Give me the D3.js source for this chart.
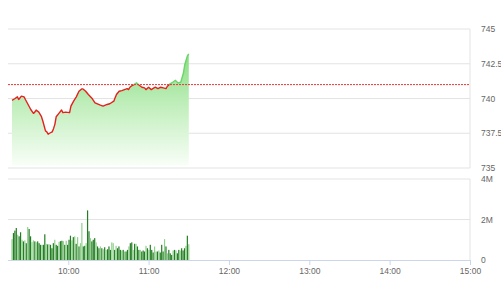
<!DOCTYPE html>
<html>
<head>
<meta charset="utf-8">
<script src="https://cdn.jsdelivr.net/npm/d3@7"></script>
<style>
  body { margin: 0; background: #fff; }
  svg { display: block; font-family: Roboto, "Noto Sans", sans-serif; }
</style>
</head>
<body>
<svg id="chart" width="501" height="300"></svg>
<script>
// intraday index, session 09:15 - 15:00
const priceTimes = ["09:18","09:20","09:22","09:23","09:25","09:27","09:28","09:30","09:32","09:34",
  "09:35","09:36","09:38","09:40","09:41","09:43","09:44","09:45","09:46","09:48",
  "09:49","09:50","09:51","09:53","09:55","09:56","09:58","10:01","10:02","10:04",
  "10:06","10:08","10:10","10:11","10:13","10:15","10:18",
  "10:20","10:24","10:26","10:29","10:31","10:34","10:35","10:36","10:38","10:40",
  "10:42","10:44","10:45","10:46","10:48","10:49","10:51","10:53","10:55","10:57",
  "10:58","11:00","11:02","11:04","11:05","11:07","11:09","11:11","11:13","11:14",
  "11:16","11:18","11:20","11:22","11:24","11:26","11:27","11:29","11:30"];
const prices = [739.86,739.98,740.12,739.93,740.17,740.12,739.93,739.57,739.21,738.93,
  739.02,739.17,739.02,738.69,738.38,737.67,737.6,737.43,737.5,737.6,
  737.83,738.14,738.69,738.93,739.17,738.98,739.02,738.98,739.45,739.81,
  740.12,740.52,740.69,740.69,740.52,740.29,739.98,
  739.69,739.52,739.45,739.57,739.62,739.81,740.05,740.29,740.52,740.57,
  740.64,740.71,740.64,740.81,740.95,741.0,741.12,740.95,740.81,740.76,
  740.64,740.81,740.64,740.76,740.81,740.71,740.81,740.76,740.71,740.88,
  741.05,741.17,741.31,741.12,741.17,741.83,742.43,743.07,743.21];
const refPrice = 741;

// volume in millions, evenly spread from volStart to volEnd
const volStart = "09:18";
const volEnd = "11:30";
const volumes = [1.03,1.33,1.45,1.58,1.25,1.17,1.37,1.0,0.92,0.97,0.83,1.63,1.53,1.17,0.88,0.97,
  0.92,0.87,0.92,0.83,0.75,0.75,0.75,1.27,0.8,0.77,0.78,0.75,0.58,0.83,1.0,0.75,0.7,0.9,0.93,
  0.95,0.93,0.75,0.95,0.75,1.0,1.2,0.97,1.13,1.17,0.8,1.13,0.67,0.83,1.83,0.67,0.7,0.83,2.45,
  1.42,1.08,0.92,1.0,1.08,0.87,0.67,0.58,
  0.67,0.58,0.53,0.63,0.5,0.53,0.67,0.5,0.87,0.83,0.5,0.7,0.58,0.67,0.5,0.47,0.5,0.42,0.42,
  0.5,0.67,0.83,0.87,0.5,0.8,0.8,0.67,0.5,0.5,0.42,0.47,0.42,0.7,0.58,0.5,0.75,0.5,0.37,0.67,
  0.42,0.42,0.47,0.37,0.75,0.42,1.03,0.67,0.33,0.5,0.33,0.25,0.47,0.5,0.47,0.33,0.5,0.47,0.58,
  0.47,0.58,0.7,1.2,0.78];
// d = dark (up), l = light (down)
const volSide = "ldddlddldldlddlldldddlddldldddlddlddldldddldldldllddlddldddlddl" +
  "dldldddlldldddldlddlddldlddldddldldddlldldddldldddldlddldddldld";

const priceTicks = [735, 737.5, 740, 742.5, 745];
const volTicks = [0, 2, 4];
const volTickLabels = ["0", "2M", "4M"];
const timeTicks = ["10:00", "11:00", "12:00", "13:00", "14:00", "15:00"];

const parse = d3.timeParse("%H:%M");
const svg = d3.select("#chart");
const left = 8, right = 470;

const x = d3.scaleTime().domain([parse("09:15"), parse("15:00")]).range([left, right]);
const yP = d3.scaleLinear().domain([735, 745]).range([168, 29]);
const yV = d3.scaleLinear().domain([0, 4]).range([260, 179]);

const grid = "#e3e3e3";

// price panel grid + right border
svg.append("g").selectAll("line").data(priceTicks).join("line")
  .attr("x1", left).attr("x2", right)
  .attr("y1", d => yP(d)).attr("y2", d => yP(d))
  .attr("stroke", grid).attr("stroke-width", 1);
svg.append("line").attr("x1", right).attr("x2", right)
  .attr("y1", yP(745)).attr("y2", yP(735)).attr("stroke", grid);

// volume panel grid + right border
svg.append("g").selectAll("line").data(volTicks.slice(1)).join("line")
  .attr("x1", left).attr("x2", right)
  .attr("y1", d => yV(d)).attr("y2", d => yV(d))
  .attr("stroke", grid).attr("stroke-width", 1);
svg.append("line").attr("x1", right).attr("x2", right)
  .attr("y1", yV(4)).attr("y2", yV(0)).attr("stroke", grid);

// gradient for the price area
const defs = svg.append("defs");
const grad = defs.append("linearGradient").attr("id", "pfill")
  .attr("gradientUnits", "userSpaceOnUse")
  .attr("x1", 0).attr("x2", 0).attr("y1", yP(743.3)).attr("y2", yP(735));
grad.append("stop").attr("offset", 0).attr("stop-color", "#86de80");
grad.append("stop").attr("offset", 0.45).attr("stop-color", "#c0eebb");
grad.append("stop").attr("offset", 1).attr("stop-color", "#fbfffa");

const yRef = yP(refPrice);
defs.append("clipPath").attr("id", "above").append("rect")
  .attr("x", 0).attr("y", 0).attr("width", 501).attr("height", yRef);
defs.append("clipPath").attr("id", "below").append("rect")
  .attr("x", 0).attr("y", yRef).attr("width", 501).attr("height", 300 - yRef);

const pts = priceTimes.map((t, i) => ({ t: parse(t), v: prices[i] }));

svg.append("path").datum(pts)
  .attr("d", d3.area().x(d => x(d.t)).y0(yP(735.2)).y1(d => yP(d.v)))
  .attr("fill", "url(#pfill)");

const line = d3.line().x(d => x(d.t)).y(d => yP(d.v));
svg.append("path").datum(pts).attr("d", line)
  .attr("fill", "none").attr("stroke", "#6cd46a").attr("stroke-width", 1.4)
  .attr("clip-path", "url(#above)");
svg.append("path").datum(pts).attr("d", line)
  .attr("fill", "none").attr("stroke", "#e3211d").attr("stroke-width", 1.4)
  .attr("stroke-linejoin", "round")
  .attr("clip-path", "url(#below)");

// reference line
svg.append("line")
  .attr("x1", left).attr("x2", right).attr("y1", yRef).attr("y2", yRef)
  .attr("stroke", "#e53935").attr("stroke-width", 1).attr("stroke-dasharray", "2,1");

// volume bars
const t0 = parse(volStart), t1 = parse(volEnd);
const step = (t1 - t0) / (volumes.length - 1);
svg.append("g").selectAll("rect").data(volumes).join("rect")
  .attr("x", (d, i) => x(new Date(+t0 + i * step)) - 0.6)
  .attr("width", 1.2)
  .attr("y", d => yV(d))
  .attr("height", d => yV(0) - yV(d))
  .attr("fill", (d, i) => volSide[i] === "l" ? "#92cf8e" : "#237e23");

// time axis
const xAxis = svg.append("g").attr("transform", `translate(0,${yV(0)})`)
  .call(d3.axisBottom(x).tickValues(timeTicks.map(parse))
    .tickFormat(d3.timeFormat("%H:%M")).tickSize(5).tickPadding(3));
xAxis.select(".domain").attr("stroke", "#ccd6eb").attr("d", `M${left},0.5H${right}`);
xAxis.selectAll(".tick line").attr("stroke", "#ccd6eb");
xAxis.selectAll("text").attr("fill", "#666").attr("font-size", 8.5);

// right axes labels
const pAxis = svg.append("g").attr("transform", `translate(${right},0)`)
  .call(d3.axisRight(yP).tickValues(priceTicks).tickFormat(d => String(d)).tickSize(0).tickPadding(11));
pAxis.select(".domain").remove();
pAxis.selectAll("text").attr("fill", "#666").attr("font-size", 8.5);

const vAxis = svg.append("g").attr("transform", `translate(${right},0)`)
  .call(d3.axisRight(yV).tickValues(volTicks).tickFormat((d, i) => volTickLabels[i]).tickSize(0).tickPadding(11));
vAxis.select(".domain").remove();
vAxis.selectAll("text").attr("fill", "#666").attr("font-size", 8.5);
</script>
</body>
</html>
